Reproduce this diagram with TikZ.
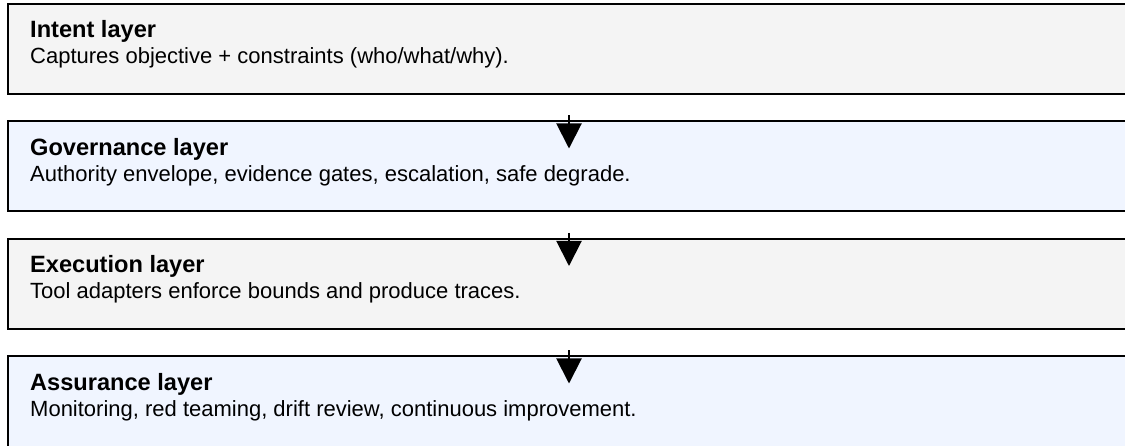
\documentclass[tikz,border=0pt]{standalone}
\usepackage{fontspec}
\setmainfont{Liberation Sans}
\usetikzlibrary{arrows.meta}
\definecolor{graybg}{HTML}{F4F4F4}
\definecolor{bluebg}{HTML}{F0F5FF}
\tikzset{
  x=1pt, y=-1pt,
  layer/.style={draw=black, line width=2pt, anchor=north west, minimum width=1122pt, minimum height=90pt, inner sep=0pt},
  ttl/.style={anchor=base west, inner sep=0pt, font=\fontsize{23.6}{28}\selectfont\bfseries},
  dsc/.style={anchor=base west, inner sep=0pt, font=\fontsize{22}{26}\selectfont},
  arr/.style={line width=2pt, -{Triangle[length=25pt,width=25pt]}}
}
\begin{document}
\begin{tikzpicture}
\useasboundingbox (0,0) rectangle (1125,446);
\clip (0,0) rectangle (1125,446);
\node[layer, fill=graybg] (intent) at (7,3) {};
\node[layer, fill=bluebg] (gov) at (7,120.5) {};
\node[layer, fill=graybg] (exec) at (7,238) {};
\node[layer, fill=bluebg] (assur) at (7,355.5) {};
\foreach \b/\t/\d in {intent/{Intent layer}/{Captures objective + constraints (who/what/why).},
  gov/{Governance layer}/{Authority envelope, evidence gates, escalation, safe degrade.},
  exec/{Execution layer}/{Tool adapters enforce bounds and produce traces.},
  assur/{Assurance layer}/{Monitoring, red teaming, drift review, continuous improvement.}}{
  \node[ttl] (\b T) at ([xshift=23pt,yshift=-35pt]\b.north west) {\t};
  \node[dsc] (\b D) at ([xshift=23pt,yshift=-61pt]\b.north west) {\d};
}
\draw[arr] ([yshift=5pt]gov.north) -- ([yshift=-28pt]gov.north);
\draw[arr] ([yshift=5pt]exec.north) -- ([yshift=-28pt]exec.north);
\draw[arr] ([yshift=5pt]assur.north) -- ([yshift=-28pt]assur.north);
\end{tikzpicture}
\end{document}
